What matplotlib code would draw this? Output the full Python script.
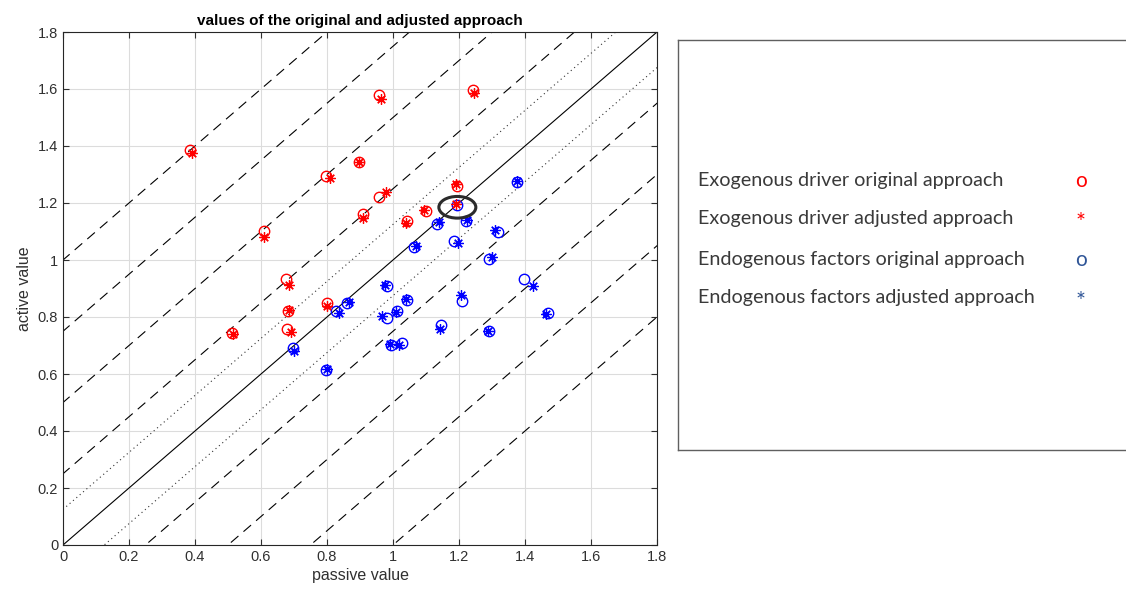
import matplotlib
matplotlib.use('Agg')
import matplotlib.pyplot as plt
from matplotlib.patches import Ellipse
import numpy as np

# exogenous drivers (red)
exo_orig_x = [0.385, 0.958, 1.241, 0.609, 0.796, 0.897, 0.958, 0.908, 1.041, 1.100, 1.195,
              0.676, 0.683, 0.679, 0.512, 0.799]
exo_orig_y = [1.386, 1.578, 1.595, 1.102, 1.296, 1.343, 1.221, 1.162, 1.138, 1.172, 1.260,
              0.932, 0.822, 0.757, 0.744, 0.850]
exo_adj_x = [0.390, 0.964, 1.245, 0.610, 0.809, 0.897, 0.978, 0.910, 1.039, 1.094, 1.191,
             0.686, 0.686, 0.691, 0.516, 0.799, 1.191]
exo_adj_y = [1.377, 1.564, 1.587, 1.082, 1.287, 1.343, 1.238, 1.146, 1.130, 1.175, 1.267,
             0.914, 0.825, 0.746, 0.740, 0.840, 1.195]

# endogenous factors (blue)
endo_orig_x = [1.195, 0.696, 0.827, 0.860, 0.797, 0.983, 0.981, 1.011, 1.041, 0.993, 1.027,
               1.065, 1.134, 1.221, 1.186, 1.375, 1.317, 1.292, 1.396, 1.209, 1.471, 1.145, 1.291]
endo_orig_y = [1.194, 0.690, 0.820, 0.848, 0.614, 0.908, 0.798, 0.821, 0.860, 0.702, 0.708,
               1.047, 1.125, 1.138, 1.067, 1.274, 1.098, 1.004, 0.932, 0.855, 0.813, 0.773, 0.750]
endo_adj_x = [0.700, 0.835, 0.866, 0.799, 0.976, 0.966, 1.009, 1.039, 0.991, 1.017,
              1.069, 1.140, 1.225, 1.198, 1.375, 1.309, 1.300, 1.425, 1.207, 1.463, 1.142, 1.287]
endo_adj_y = [0.681, 0.815, 0.853, 0.616, 0.911, 0.805, 0.819, 0.862, 0.704, 0.701,
              1.049, 1.132, 1.141, 1.059, 1.276, 1.105, 1.011, 0.909, 0.878, 0.811, 0.759, 0.750]

dashed_offsets = [-1.0, -0.75, -0.5, -0.25, 0.25, 0.5, 0.75, 1.0]
dotted_offsets = [-0.125, 0.125]

legend_labels = ['Exogenous driver original approach',
                 'Exogenous driver adjusted approach',
                 'Endogenous factors original approach',
                 'Endogenous factors adjusted approach']
legend_symbols = ['o', '*', 'o', '*']
legend_colors = ['#FF0000', '#FF0000', '#2F5597', '#2F5597']

W, H = 1126, 596
fig = plt.figure(figsize=(W / 100, H / 100), dpi=100)
plt.rcParams['font.family'] = ['Liberation Sans', 'DejaVu Sans']

ax = fig.add_axes([63 / W, 1 - 545 / H, 594 / W, 513 / H])

xx = np.array([-1.0, 3.0])
ax.plot(xx, xx, color='black', lw=0.8)
for off in dotted_offsets:
    ax.plot(xx, xx + off, color='#333333', lw=0.8, linestyle=(0, (1, 3)))
for off in dashed_offsets:
    ax.plot(xx, xx + off, color='black', lw=0.8, linestyle=(0, (9, 6)))

star = (8, 2, 0)
ax.plot(exo_orig_x, exo_orig_y, 'o', mfc='none', mec='red', ms=7.5, mew=1)
ax.plot(endo_orig_x, endo_orig_y, 'o', mfc='none', mec='blue', ms=7.5, mew=1)
ax.plot(endo_adj_x, endo_adj_y, marker=star, ls='none', color='blue', ms=7.5, mew=0.9)
ax.plot(exo_adj_x, exo_adj_y, marker=star, ls='none', color='red', ms=7.5, mew=0.9)

ax.add_patch(Ellipse((1.195, 1.185), 0.112, 0.076, fill=False, ec='#2b2b2b', lw=2.2, zorder=5))

ax.set_xlim(0, 1.8)
ax.set_ylim(0, 1.8)
ticks = np.arange(0, 1.81, 0.2)
ax.set_xticks(ticks)
ax.set_yticks(ticks)
ax.set_xticklabels(['0', '0.2', '0.4', '0.6', '0.8', '1', '1.2', '1.4', '1.6', '1.8'])
ax.set_yticklabels(['0', '0.2', '0.4', '0.6', '0.8', '1', '1.2', '1.4', '1.6', '1.8'])
ax.tick_params(direction='in', top=True, right=True, length=4, labelsize=10.5,
               colors='#303030', width=0.8)
ax.grid(True, color='#dcdcdc', lw=0.8)
ax.set_axisbelow(True)
for s in ax.spines.values():
    s.set_color('#262626')
    s.set_linewidth(0.8)
ax.set_xlabel('passive value', fontsize=11.5, color='#303030', labelpad=3)
ax.set_ylabel('active value', fontsize=11.5, color='#303030', labelpad=4)
ax.set_title('values of the original and adjusted approach', fontsize=11,
             fontweight='bold', pad=5)

# legend box drawn as a separate panel
lax = fig.add_axes([678 / W, 1 - 450 / H, (W - 678) / W, 410 / H])
lax.set_xlim(678, W)
lax.set_ylim(450, 40)
lax.set_xticks([])
lax.set_yticks([])
for s in lax.spines.values():
    s.set_color('#606060')
    s.set_linewidth(1)
lax.spines['right'].set_visible(False)

rows = [181, 219, 260, 298]
for r, lab, sym, col in zip(rows, legend_labels, legend_symbols, legend_colors):
    lax.text(698, r, lab, fontsize=14.2, family=['Lato', 'DejaVu Sans'],
             color='#3a3a3a', va='center', ha='left')
    if sym == '*':
        lax.text(1081, r + 4, sym, fontsize=17, family=['Lato', 'DejaVu Sans'],
                 color=col, va='center', ha='center')
    else:
        lax.text(1081, r, sym, fontsize=15, family=['Lato', 'DejaVu Sans'],
                 color=col, va='center', ha='center')

fig.savefig('out.png', dpi=100)
